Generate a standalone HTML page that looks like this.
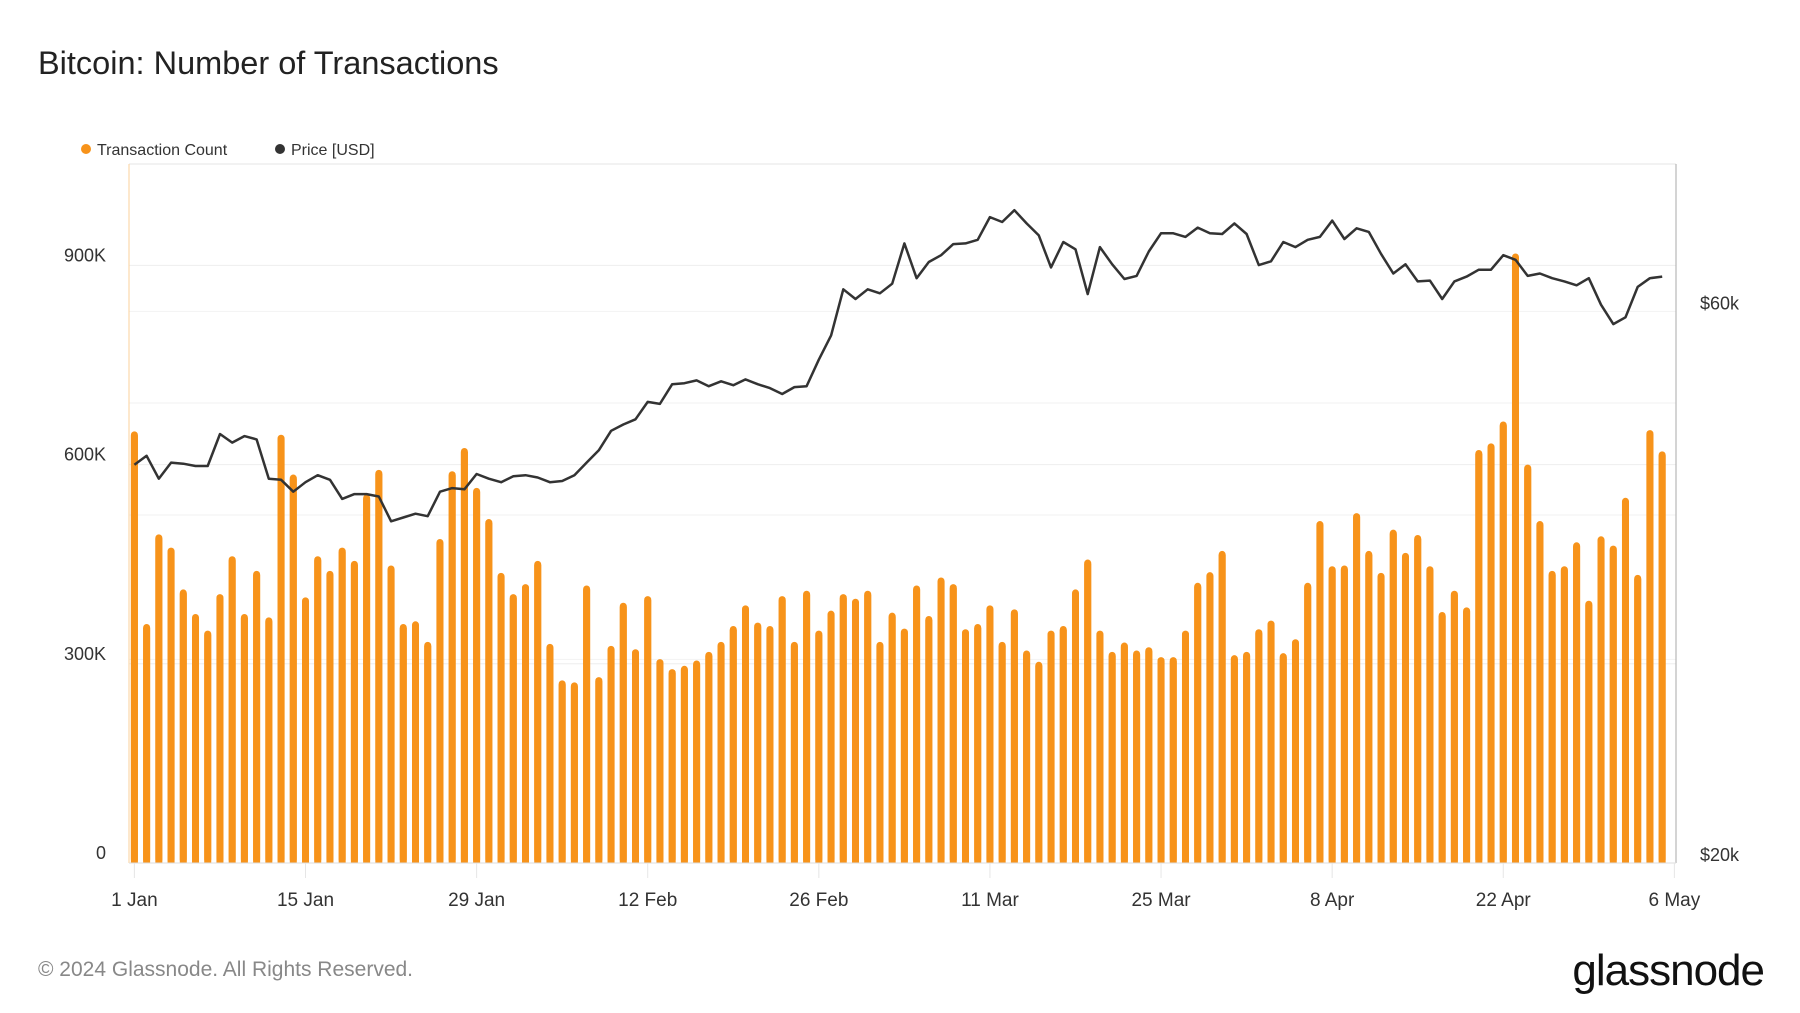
<!DOCTYPE html>
<html><head><meta charset="utf-8"><style>
body{margin:0;background:#fff;font-family:"Liberation Sans",sans-serif}
svg{display:block}
</style></head><body>
<svg width="1800" height="1013" viewBox="0 0 1800 1013">
<text x="38" y="74" font-size="32.5" fill="#222">Bitcoin: Number of Transactions</text>
<g>
<circle cx="86" cy="149" r="5" fill="#f7931a"/>
<text x="97" y="155" font-size="16" fill="#333">Transaction Count</text>
<circle cx="280" cy="149" r="5" fill="#333"/>
<text x="291" y="155" font-size="16" fill="#333">Price [USD]</text>
</g>
<g id="grid"></g>
<line x1="129" y1="164" x2="1676" y2="164" stroke="#e6e6e6"/>
<g id="bars"></g>
<path id="priceLine" fill="none" stroke="#333" stroke-width="2.5" stroke-linejoin="round"/>
<line x1="129" y1="164" x2="129" y2="863" stroke="#fbd29b"/>
<line x1="1676" y1="164" x2="1676" y2="863" stroke="#aaa"/>
<line x1="129" y1="863" x2="1676" y2="863" stroke="#ddd"/>
<g id="yLeft"></g>
<g id="yRight"></g>
<g id="xAxis"></g>
<text x="38" y="976" font-size="21" fill="#888">© 2024 Glassnode. All Rights Reserved.</text>
<text x="1764" y="985" font-size="44" fill="#111" text-anchor="end" letter-spacing="-1">glassnode</text>
</svg>
<script>
const counts=[650,360,495,475,412,375,350,405,462,375,440,370,645,585,400,462,440,475,455,555,592,448,360,364,333,488,590,625,565,518,437,405,420,455,330,275,272,418,280,327,392,322,402,307,292,297,305,318,333,357,388,362,357,402,333,410,350,380,405,398,410,333,377,353,418,372,430,420,352,360,388,333,382,320,303,350,357,412,457,350,318,332,320,325,310,310,350,422,438,470,313,318,352,365,316,337,422,515,447,448,527,470,437,502,467,494,447,378,410,385,622,632,665,918,600,515,440,447,483,395,492,478,550,434,652,620];
const prices=[44.2,45.0,43.0,44.4,44.3,44.1,44.1,47.0,46.2,46.8,46.5,43.0,42.9,41.9,42.7,43.3,42.9,41.3,41.7,41.7,41.5,39.5,39.8,40.1,39.9,41.9,42.2,42.1,43.4,43.0,42.7,43.2,43.3,43.1,42.7,42.8,43.3,44.4,45.5,47.3,47.9,48.4,50.1,49.9,51.9,52.0,52.3,51.7,52.2,51.8,52.4,51.9,51.5,50.9,51.6,51.7,54.5,57.2,62.7,61.5,62.7,62.2,63.4,68.7,64.1,66.2,67.1,68.6,68.7,69.2,72.4,71.7,73.4,71.5,69.8,65.5,68.9,67.9,62.1,68.2,65.9,64.0,64.4,67.6,70.1,70.1,69.6,70.9,70.1,70.0,71.5,70.0,65.8,66.3,68.9,68.2,69.2,69.6,71.9,69.3,70.8,70.3,67.3,64.7,65.9,63.7,63.8,61.5,63.7,64.3,65.2,65.2,67.1,66.5,64.4,64.7,64.1,63.7,63.2,64.1,60.8,58.5,59.3,63.0,64.1,64.3];
const xTickLabels=["1 Jan","15 Jan","29 Jan","12 Feb","26 Feb","11 Mar","25 Mar","8 Apr","22 Apr","6 May"];
const xTickDays=[0,14,28,42,56,70,84,98,112,126];
const leftTicks=[0,300,600,900];
const leftTickLabels=["0","300K","600K","900K"];
const rightTicks=[20,60];
const rightTickLabels=["$20k","$60k"];
const rightGrid=[30,40,50,60];

const NS="http://www.w3.org/2000/svg";
const x=d=>134.4+12.222*d;
const yL=v=>863-v/300*199.2;
const yR=p=>863-Math.log(p/20)/Math.log(3)*551.6;
function mk(t,a,parent){const e=document.createElementNS(NS,t);for(const k in a)e.setAttribute(k,a[k]);parent.appendChild(e);return e;}
const grid=document.getElementById('grid');
leftTicks.slice(1).forEach(v=>{const l=mk('line',{x1:129,x2:1676,y1:yL(v),y2:yL(v),stroke:'#eee'},grid);

});
rightGrid.forEach(p=>{const l=mk('line',{x1:129,x2:1676,y1:yR(p),y2:yR(p),stroke:'#f2f2f2'},grid);

});
const bars=document.getElementById('bars');
counts.forEach((v,i)=>{const r=mk('rect',{x:x(i)-3.5,y:yL(v),width:7,height:863-yL(v),rx:3.5,fill:'#f7931a'},bars);


mk('rect',{x:x(i)-3.5,y:Math.min(863-3.5,yL(v)+4),width:7,height:Math.max(0,863-yL(v)-4),fill:'#f7931a'},bars);});
document.getElementById('priceLine').setAttribute('d',prices.map((p,i)=>(i?'L':'M')+x(i).toFixed(1)+','+yR(p).toFixed(1)).join(''));
const yl=document.getElementById('yLeft');
leftTicks.forEach((v,i)=>{const t=mk('text',{x:106,y:yL(v)-4,'font-size':18,fill:'#333','text-anchor':'end'},yl);t.textContent=leftTickLabels[i];

});
const yr=document.getElementById('yRight');
rightTicks.forEach((p,i)=>{const t=mk('text',{x:1700,y:yR(p)-2,'font-size':18,fill:'#333'},yr);t.textContent=rightTickLabels[i];

});
const xa=document.getElementById('xAxis');
xTickDays.forEach((d,i)=>{mk('line',{x1:x(d),x2:x(d),y1:863,y2:878,stroke:'#e6e6e6'},xa);
const t=mk('text',{x:x(d),y:906,'font-size':19,fill:'#333','text-anchor':'middle'},xa);t.textContent=xTickLabels[i];

});
</script>
</body></html>
